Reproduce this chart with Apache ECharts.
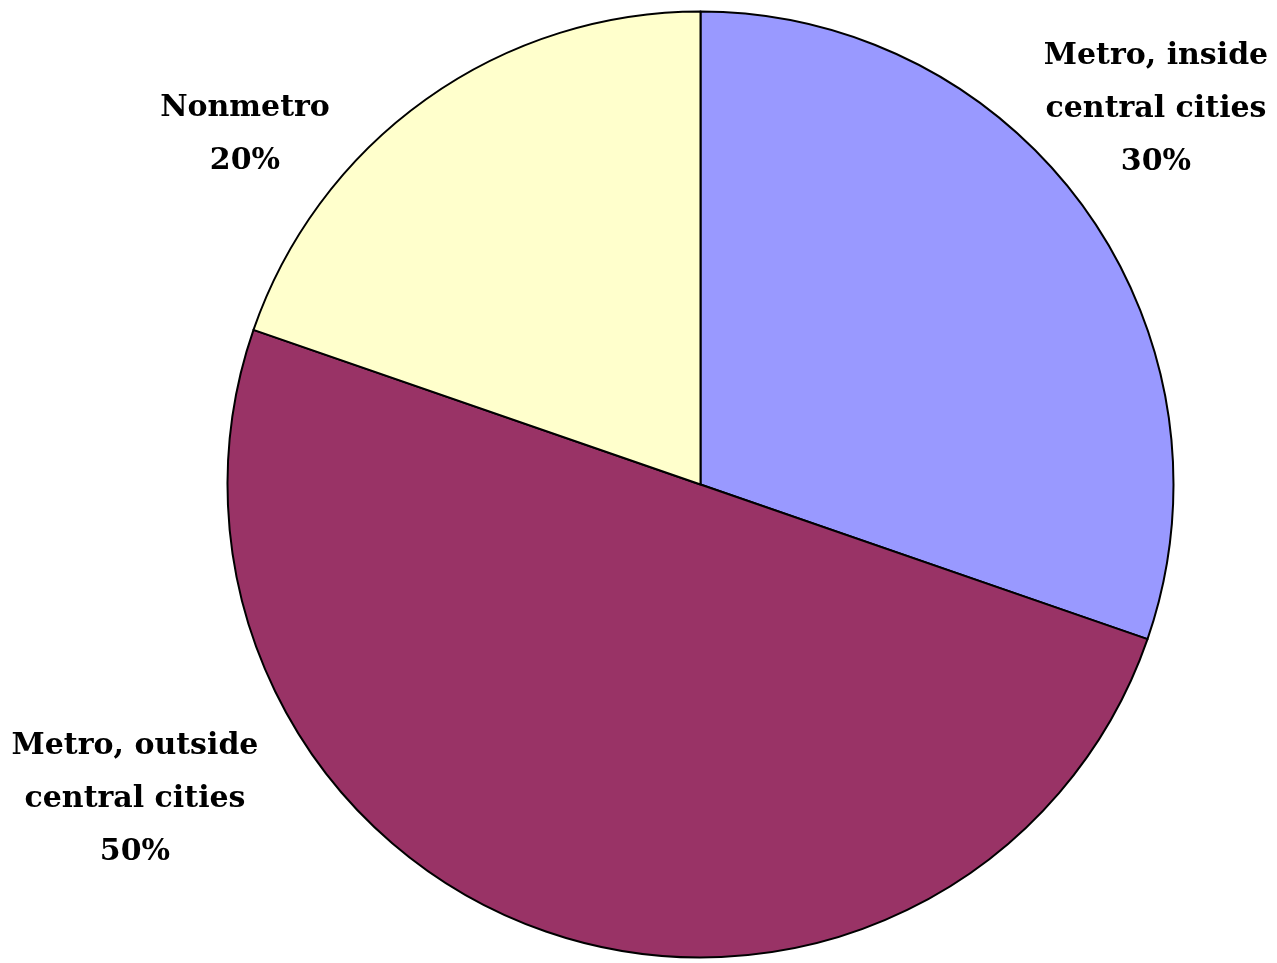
<!DOCTYPE html>
<html>
<head>
<meta charset="utf-8">
<script src="https://cdn.jsdelivr.net/npm/echarts@6/dist/echarts.min.js"></script>
<style>
html,body{margin:0;padding:0;background:#fff;}
#chart{width:1277px;height:963px;}
</style>
</head>
<body>
<div id="chart"></div>
<script>
const categories = ['Metro, inside\ncentral cities', 'Metro, outside\ncentral cities', 'Nonmetro'];
const values = [30.3, 50.0, 19.7];
const colors = ['#9999FF', '#993366', '#FFFFCC'];

const labelPos = [[1156, 109], [135, 799], [245, 135]];

const chart = echarts.init(document.getElementById('chart'), null, {renderer: 'canvas'});
chart.setOption({
  backgroundColor: '#ffffff',
  animation: false,
  series: [{
    type: 'pie',
    center: [700.5, 484.5],
    radius: [0, 473],
    startAngle: 90,
    clockwise: true,
    data: categories.map((c, i) => ({name: c, value: values[i], itemStyle: {color: colors[i]}})),
    itemStyle: {borderColor: '#000', borderWidth: 2},
    label: {
      show: true,
      formatter: p => p.name + '\n' + Math.round(p.percent) + '%',
      fontFamily: '"DejaVu Serif", "Liberation Serif", serif',
      fontWeight: 'bold',
      fontSize: 30,
      lineHeight: 53,
      color: '#000',
      align: 'center',
      overflow: 'none'
    },
    labelLine: {show: false},
    labelLayout: function (params) {
      const p = labelPos[params.dataIndex];
      return {x: p[0], y: p[1], align: 'center', verticalAlign: 'middle'};
    },
    emphasis: {disabled: true}
  }]
});
</script>
</body>
</html>
